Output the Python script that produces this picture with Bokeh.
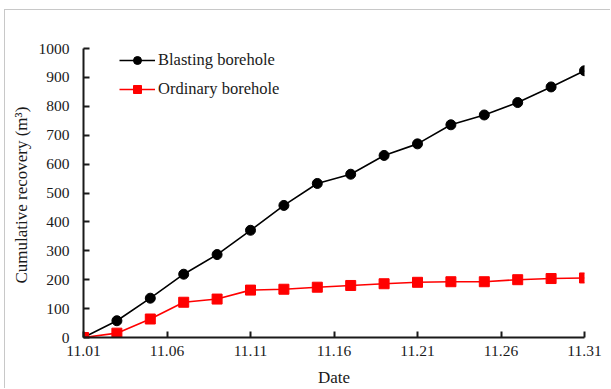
from bokeh.plotting import figure
from bokeh.models import Range1d, FixedTicker, Legend, LegendItem
from bokeh.embed import file_html
from bokeh.resources import INLINE

days = [1, 3, 5, 7, 9, 11, 13, 15, 17, 19, 21, 23, 25, 27, 29, 31]
blasting = [0, 58, 136, 219, 287, 371, 457, 533, 565, 630, 670, 736, 770, 813, 867, 923]
ordinary = [0, 15, 64, 122, 133, 164, 167, 174, 180, 186, 191, 193, 193, 200, 204, 206]
x_ticks = [1, 6, 11, 16, 21, 26, 31]
x_tick_labels = ["11.01", "11.06", "11.11", "11.16", "11.21", "11.26", "11.31"]
y_ticks = [0, 100, 200, 300, 400, 500, 600, 700, 800, 900, 1000]

FONT = "Liberation Serif"

p = figure(width=606, height=379, output_backend="svg", toolbar_location=None,
           x_range=Range1d(1, 31), y_range=Range1d(0, 1000),
           min_border_left=78, min_border_right=27, min_border_top=38, min_border_bottom=49)
p.margin = (9, 0, 0, 4)
p.styles = {"border-left": "1px solid #c8c8c8", "border-top": "1px solid #c8c8c8"}
p.outline_line_color = None
p.grid.visible = False
p.background_fill_color = "white"
p.border_fill_color = "white"

for ax in (p.xaxis[0], p.yaxis[0]):
    ax.axis_line_width = 2
    ax.axis_line_color = "#1a1a1a"
    ax.major_tick_line_width = 2
    ax.major_tick_line_color = "#1a1a1a"
    ax.major_tick_in = 6
    ax.major_tick_out = 0
    ax.minor_tick_line_color = None
    ax.major_label_text_font = FONT
    ax.major_label_text_font_size = "15.5px"
    ax.major_label_text_color = "#1a1a1a"
    ax.axis_label_text_font = FONT
    ax.axis_label_text_font_size = "17px"
    ax.axis_label_text_font_style = "normal"
    ax.axis_label_text_color = "#1a1a1a"

p.xaxis.ticker = FixedTicker(ticks=x_ticks)
p.xaxis.major_label_overrides = {t: l for t, l in zip(x_ticks, x_tick_labels)}
p.xaxis.major_label_standoff = 8
p.xaxis.axis_label = "Date"
p.xaxis.axis_label_standoff = 9

p.yaxis.ticker = FixedTicker(ticks=y_ticks)
p.yaxis.major_label_standoff = 14
p.yaxis.axis_label = "Cumulative  recovery (m³)"
p.yaxis.axis_label_standoff = 5

l1 = p.line(days, blasting, line_color="black", line_width=1.6)
m1 = p.scatter(days, blasting, marker="circle", size=10, fill_color="black", line_color="black")
l2 = p.line(days, ordinary, line_color="#ff0000", line_width=1.6)
m2 = p.scatter(days, ordinary, marker="square", size=10, fill_color="#ff0000", line_color="#ff0000")

legend = Legend(items=[LegendItem(label="Blasting borehole", renderers=[l1, m1]),
                       LegendItem(label="Ordinary borehole", renderers=[l2, m2])],
                location=(36, 238))
legend.border_line_alpha = 0
legend.background_fill_alpha = 0
legend.padding = 0
legend.margin = 0
legend.spacing = 9
legend.label_height = 20
legend.glyph_height = 20
legend.glyph_width = 36
legend.label_standoff = 3
legend.label_text_font = FONT
legend.label_text_font_size = "16.5px"
legend.label_text_color = "#1a1a1a"
p.add_layout(legend, "center")

open("out.html", "w").write(file_html(p, INLINE))
